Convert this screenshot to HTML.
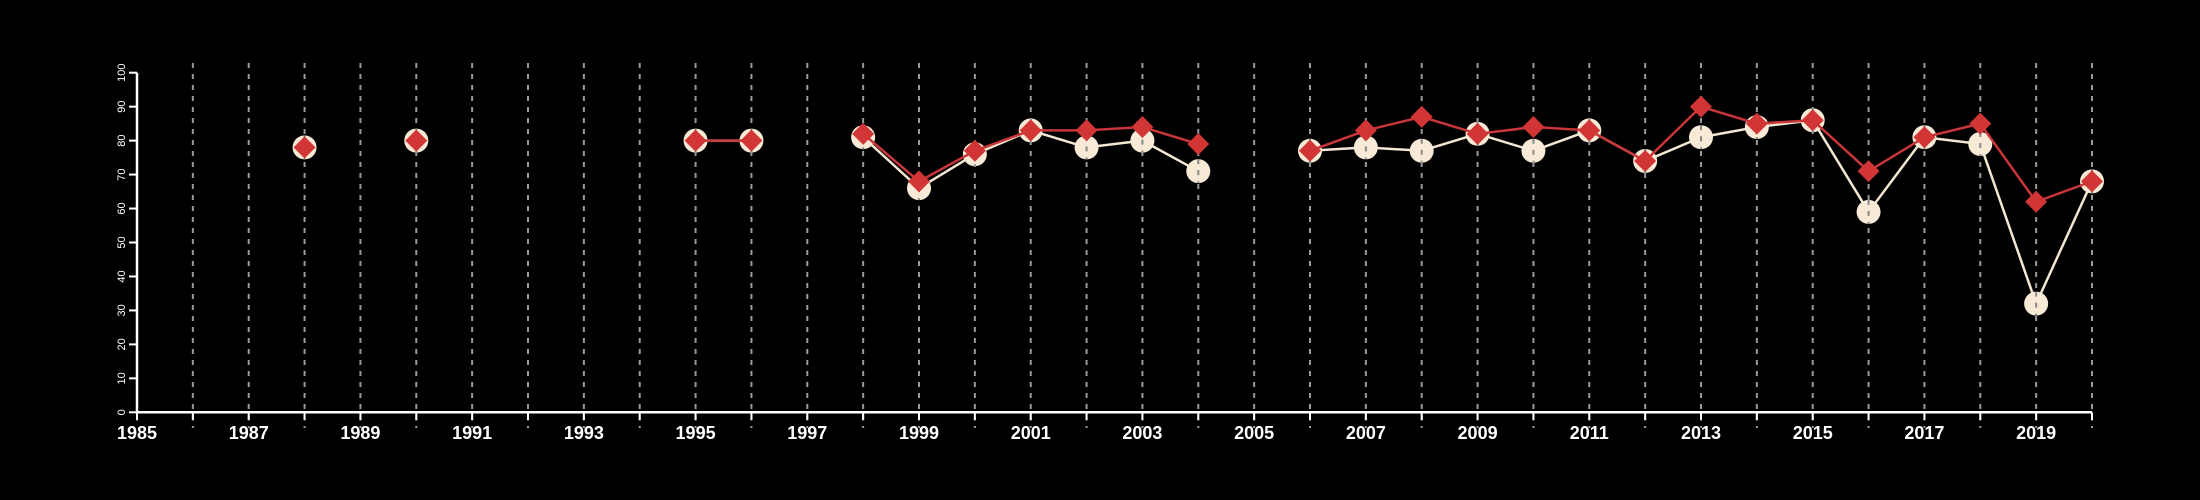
<!DOCTYPE html>
<html><head><meta charset="utf-8"><style>
html,body{margin:0;padding:0;background:#000;width:2200px;height:500px;overflow:hidden}
svg{display:block}
</style></head><body>
<svg id="chart" width="2200" height="500" xmlns="http://www.w3.org/2000/svg">
<rect width="2200" height="500" fill="#000"/>
<g id="grid"></g>
<g id="axes"></g>
<g id="series"></g>
</svg>
<script>
const years = [1988,1990,1995,1996,1998,1999,2000,2001,2002,2003,2004,2006,2007,2008,2009,2010,2011,2012,2013,2014,2015,2016,2017,2018,2019,2020];
const creamValues = [78,80,80,80,81,66,76,83,78,80,71,77,78,77,82,77,83,74,81,84,86,59,81,79,32,68];
const redValues = [78,80,80,80,82,68,77,83,83,84,79,77,83,87,82,84,83,74,90,85,86,71,81,85,62,68];
const yTicks = [0,10,20,30,40,50,60,70,80,90,100];
const xLabelYears = [1985,1987,1989,1991,1993,1995,1997,1999,2001,2003,2005,2007,2009,2011,2013,2015,2017,2019];
const xMin = 1985, xMax = 2020, yMin = 0, yMax = 100;

const NS = "http://www.w3.org/2000/svg";
const L = 137, R = 2092, T = 72.7, B = 412.3;
const xs = v => L + (v - xMin) / (xMax - xMin) * (R - L);
const ys = v => B - (v - yMin) / (yMax - yMin) * (B - T);
function mk(tag, attrs, parent){const e=document.createElementNS(NS,tag);for(const k in attrs)e.setAttribute(k,attrs[k]);parent.appendChild(e);return e;}
const grid=document.getElementById('grid'), axes=document.getElementById('axes'), series=document.getElementById('series');

// vertical dashed grid
for(let y=xMin+1;y<=xMax;y++){
  const l=mk('line',{x1:xs(y),x2:xs(y),y1:63,y2:428,stroke:'#9a9a9a','stroke-width':2,'stroke-dasharray':'5,6'},grid);
  
  
}
// axes
const ya=mk('line',{x1:L,x2:L,y1:T,y2:B,stroke:'#fff','stroke-width':2.5},axes);


const xa=mk('line',{x1:L,x2:R,y1:B,y2:B,stroke:'#fff','stroke-width':2.5},axes);


yTicks.forEach(v=>{
  const t=mk('line',{x1:L-8,x2:L,y1:ys(v),y2:ys(v),stroke:'#fff','stroke-width':2},axes);
  
  
  const tx=mk('text',{x:0,y:0,transform:`translate(${L-12},${ys(v)}) rotate(-90)`,'text-anchor':'middle',fill:'#fff','font-size':11,'font-family':'Liberation Sans, sans-serif'},axes);
  tx.textContent=v;
  
  
});
for(let y=xMin;y<=xMax;y++){
  const t=mk('line',{x1:xs(y),x2:xs(y),y1:B,y2:B+8,stroke:'#fff','stroke-width':2},axes);
  
  
}
xLabelYears.forEach(y=>{
  const tx=mk('text',{x:xs(y),y:439,'text-anchor':'middle',fill:'#fff','font-size':18,'font-weight':'bold','font-family':'Liberation Sans, sans-serif'},axes);
  tx.textContent=y;
  
  
});
// lines (break on missing years)
function drawLine(vals,color,w,name){
  let d='';
  years.forEach((y,i)=>{
    const cont=i>0 && y-years[i-1]===1;
    d+=(cont?'L':'M')+xs(y)+','+ys(vals[i])+' ';
  });
  const p=mk('path',{d:d,fill:'none',stroke:color,'stroke-width':w,'stroke-linejoin':'round'},series);
  
  
}
drawLine(creamValues,'#f3e6d2',2.5,'cream-series-line');
years.forEach((y,i)=>{
  const c=mk('circle',{cx:xs(y),cy:ys(creamValues[i]),r:12,fill:'#f8ead6'},series);
  
  
  mk('line',{x1:xs(y),x2:xs(y),y1:ys(creamValues[i])-12,y2:ys(creamValues[i])+12,stroke:'#888','stroke-width':2,'stroke-dasharray':'5,6'},series);
});
drawLine(redValues,'#c9363a',2.5,'red-series-line');
years.forEach((y,i)=>{
  const cx=xs(y), cy=ys(redValues[i]), s=11;
  const p=mk('polygon',{points:`${cx},${cy-s} ${cx+s},${cy} ${cx},${cy+s} ${cx-s},${cy}`,fill:'#d13535'},series);
  
  
});
</script>
</body></html>
